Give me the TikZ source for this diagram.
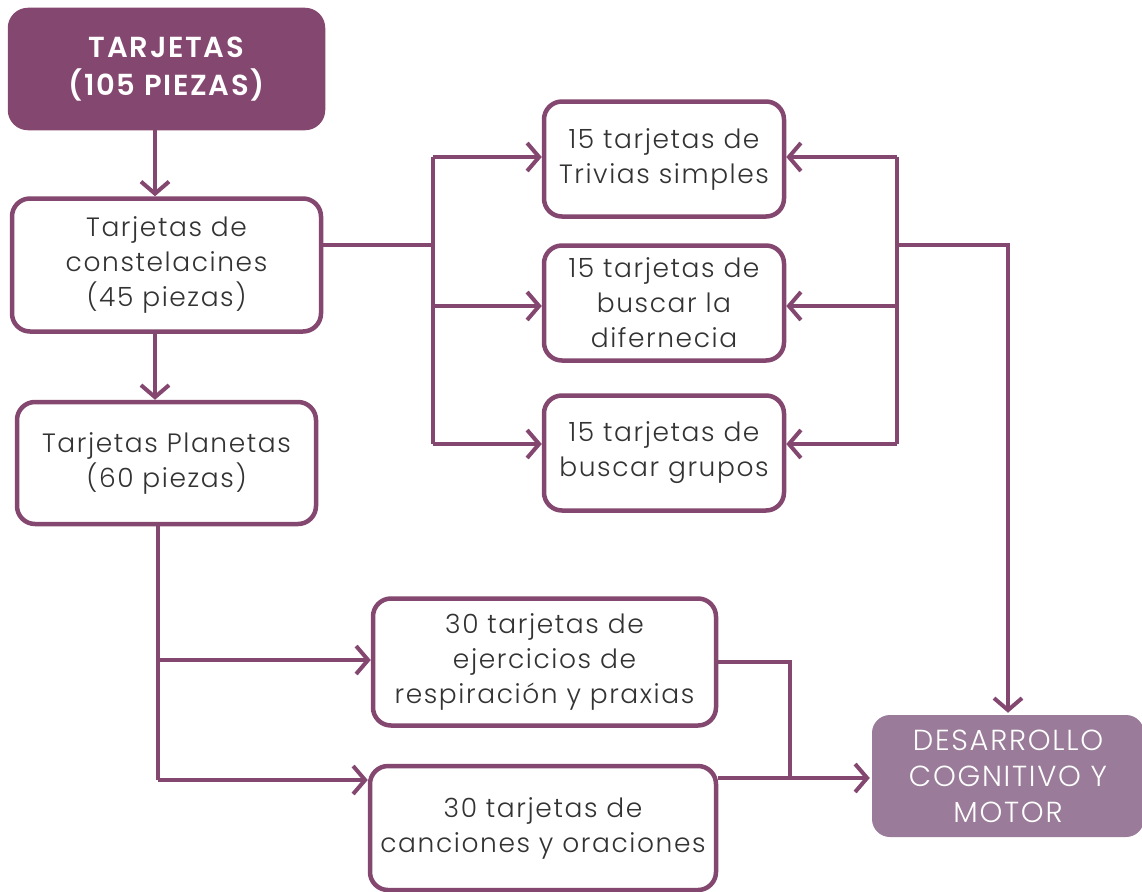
\documentclass[tikz,border=0pt]{standalone}
\usepackage{fontspec}
\setmainfont{Poppins}[UprightFont=* Light, BoldFont=* SemiBold, LetterSpace=6]
\usetikzlibrary{arrows.meta}
\definecolor{pdark}{HTML}{84476F}
\definecolor{plight}{HTML}{9A7B99}
\definecolor{textc}{HTML}{333333}
\begin{document}
\begin{tikzpicture}[x=1pt,y=-1pt,
  box/.style={draw=pdark, line width=4.5pt, rounded corners=18pt, fill=white, align=center, text=textc, font=\fontsize{26.5}{35}\selectfont, inner sep=0pt},
  arr/.style={draw=pdark, line width=4pt, -{Straight Barb[length=12pt,width=28pt,line width=4pt]}},
  ln/.style={draw=pdark, line width=4pt}]
\useasboundingbox (0,0) rectangle (1142,891);
\node[box, fill=pdark, text=white, font=\fontsize{29}{38}\selectfont\bfseries, minimum width=313pt, minimum height=118pt] (top) at (166.5,69) {TARJETAS\\(105 PIEZAS)};
\node[box, minimum width=309pt, minimum height=133pt] (con) at (166.5,265) {Tarjetas de\\constelacines\\(45 piezas)};
\node[box, minimum width=299pt, minimum height=122pt] (pla) at (166.5,463) {Tarjetas Planetas\\(60 piezas)};
\node[box, minimum width=240pt, minimum height=115pt] (tri) at (664,159) {15 tarjetas de\\Trivias simples};
\node[box, minimum width=240pt, minimum height=115pt] (dif) at (664,303) {15 tarjetas de\\buscar la\\difernecia};
\node[box, minimum width=240pt, minimum height=115pt] (gru) at (664,453) {15 tarjetas de\\buscar grupos};
\node[box, minimum width=343pt, minimum height=127pt] (eje) at (544.5,662) {30 tarjetas de\\ejercicios de\\respiración y praxias};
\node[box, minimum width=346pt, minimum height=124pt] (can) at (543,828) {30 tarjetas de\\canciones y oraciones};
\node[box, draw=none, fill=plight, text=white, font=\fontsize{29}{36}\selectfont, minimum width=272pt, minimum height=122pt] (des) at (1008,776) {DESARROLLO\\COGNITIVO Y\\MOTOR};
% coordinates
\coordinate (c1) at (155,0);
\coordinate (jl) at (433,245);
\coordinate (jr) at (897,245);
\coordinate (d1) at (1008,245);
\coordinate (p1) at (158,660);
\coordinate (p2) at (158,780);
\coordinate (e1) at (790,662);
\coordinate (e2) at (790,778);
\coordinate (y1) at (0,157);
\coordinate (y2) at (0,306);
\coordinate (y3) at (0,444);
% connectors
\draw[arr] (top.south -| c1) -- (con.north -| c1);
\draw[arr] (con.south -| c1) -- (pla.north -| c1);
\draw[ln] (con.east |- jl) -- (jl);
\draw[ln] (jl |- y1) -- (jl |- y3);
\draw[arr] (jl |- y1) -- (tri.west |- y1);
\draw[arr] (jl |- y2) -- (dif.west |- y2);
\draw[arr] (jl |- y3) -- (gru.west |- y3);
\draw[ln] (jr |- y1) -- (jr |- y3);
\draw[arr] (jr |- y1) -- (tri.east |- y1);
\draw[arr] (jr |- y2) -- (dif.east |- y2);
\draw[arr] (jr |- y3) -- (gru.east |- y3);
\draw[arr] (jr) -- (d1) -- (des.north -| d1);
\draw[ln] (pla.south -| p1) -- (p2);
\draw[arr] (p1) -- (eje.west |- p1);
\draw[arr] (p2) -- (can.west |- p2);
\draw[ln] (eje.east |- e1) -- (e1) -- (e2);
\draw[arr] (can.east |- e2) -- (des.west |- e2);
\end{tikzpicture}
\end{document}
